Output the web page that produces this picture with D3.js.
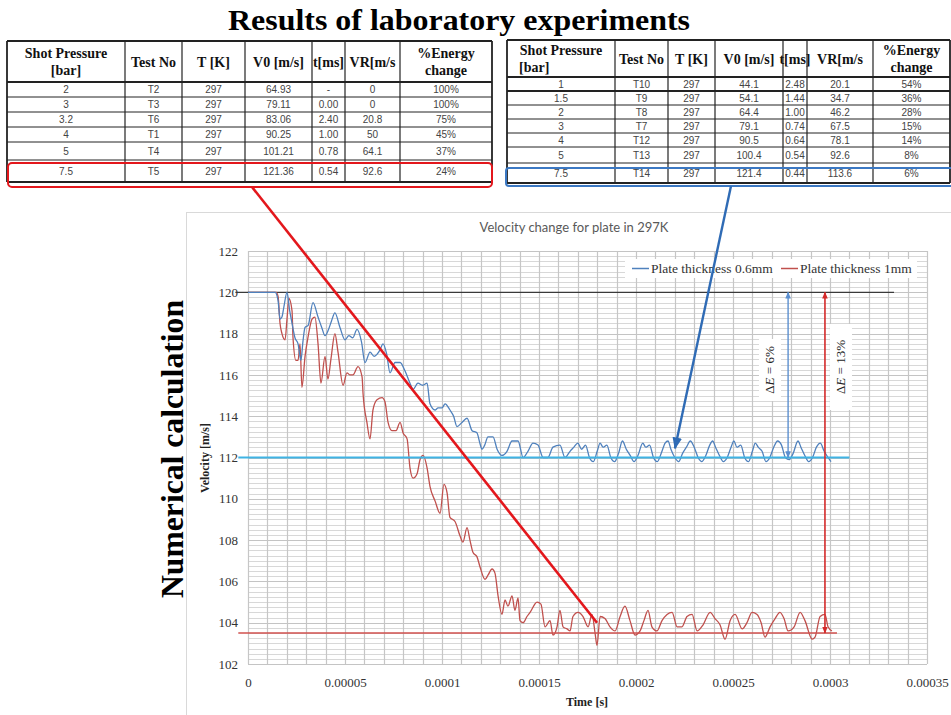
<!DOCTYPE html>
<html>
<head>
<meta charset="utf-8">
<script src="https://cdn.jsdelivr.net/npm/d3@7"></script>
<style>
  html, body { margin: 0; padding: 0; background: #fff; }
  svg { display: block; }
</style>
</head>
<body>
<svg id="fig" width="951" height="715"></svg>
<script>
// ---- experiment tables ----
const tableHeaders = [["Shot Pressure", "[bar]"], ["Test No"], ["T [K]"], ["V0  [m/s]"], ["t[ms]"], ["VR[m/s"], ["%Energy", "change"]];
const leftRows = [
  ["2", "T2", "297", "64.93", "-", "0", "100%"],
  ["3", "T3", "297", "79.11", "0.00", "0", "100%"],
  ["3.2", "T6", "297", "83.06", "2.40", "20.8", "75%"],
  ["4", "T1", "297", "90.25", "1.00", "50", "45%"],
  ["5", "T4", "297", "101.21", "0.78", "64.1", "37%"],
  ["7.5", "T5", "297", "121.36", "0.54", "92.6", "24%"]
];
const rightRows = [
  ["1", "T10", "297", "44.1", "2.48", "20.1", "54%"],
  ["1.5", "T9", "297", "54.1", "1.44", "34.7", "36%"],
  ["2", "T8", "297", "64.4", "1.00", "46.2", "28%"],
  ["3", "T7", "297", "79.1", "0.74", "67.5", "15%"],
  ["4", "T12", "297", "90.5", "0.64", "78.1", "14%"],
  ["5", "T13", "297", "100.4", "0.54", "92.6", "8%"],
  ["7.5", "T14", "297", "121.4", "0.44", "113.6", "6%"]
];

// ---- simulated velocity histories (time in microseconds, velocity in m/s) ----
const blueTime = [0, 14, 15.5, 16.5, 17.5, 18.5, 20.1, 21.5, 22.7, 24.2, 25.8, 27.3, 28.3, 29.4, 31, 33.5, 36.1, 38, 39.7, 41.5, 43, 44.8, 47.4, 50, 52, 54, 56.2, 58.5, 60.3, 62.9, 65, 68, 69.6, 71.5, 73.2, 75.8, 78.4, 80.9, 83.5, 85.1, 87.6, 90, 92.3, 93.8, 96.4, 98, 100, 101.6, 104.1, 106, 107.7, 110.3, 112.9, 115.5, 118, 119.5, 120.6, 122, 123.7, 126.3, 128.4, 130.9, 133.5, 136.1, 139.2, 141.8, 144.3, 146.9, 149.5, 152.1, 154.6, 157.2, 160.8, 163.4, 166, 168, 170, 172, 174, 176, 178, 180, 181.5, 183, 185, 187, 189, 191, 193, 195, 197, 199, 201, 203.5, 205, 207, 209, 211, 213, 215, 216.5, 218, 220, 222, 224, 226, 228, 230, 232, 234, 236, 238, 239.5, 241, 243, 245, 247, 249, 250.5, 252, 254, 256, 258, 260, 261.5, 263, 265, 267, 269, 271, 273, 275, 277, 279, 281, 283.5, 285, 287, 289, 291, 293, 295, 297, 299, 300.5];
const blueVel = [120, 120, 119.6, 118.7, 118.8, 119.3, 120.0, 119.1, 118.5, 117.8, 117.5, 116.7, 117.6, 118.3, 118.4, 119.5, 118.8, 118.3, 117.9, 118.2, 118.6, 119.0, 118.3, 117.7, 117.9, 117.8, 118.2, 117.6, 116.6, 117.1, 116.9, 117.2, 117.5, 117.0, 116.1, 116.6, 116.6, 116.2, 115.6, 115.3, 115.6, 115.5, 115.6, 114.6, 114.3, 114.4, 114.4, 114.6, 114.3, 114.0, 113.5, 113.7, 113.9, 113.3, 113.2, 112.7, 112.4, 112.6, 113.0, 113.0, 112.4, 112.1, 112.3, 112.8, 112.8, 112.0, 112.3, 112.7, 112.6, 112.0, 112.0, 112.5, 112.6, 112.0, 112.3, 112.5, 112.7, 112.4, 112.6, 112.0, 111.8, 112.3, 112.7, 112.5, 112.6, 112.0, 111.8, 112.2, 112.8, 112.4, 112.1, 111.8, 112.1, 112.7, 112.5, 112.6, 112.0, 111.8, 112.2, 112.7, 112.8, 112.4, 112.0, 111.8, 112.2, 112.5, 112.8, 112.5, 112.0, 111.8, 112.1, 112.6, 112.8, 112.5, 112.1, 111.8, 112.0, 112.5, 112.8, 112.5, 112.6, 112.0, 111.8, 112.3, 112.7, 112.5, 112.3, 111.8, 112.0, 112.5, 112.8, 112.6, 112.0, 111.9, 112.2, 112.8, 112.5, 112.1, 111.8, 112.0, 112.5, 112.7, 112.3, 112.0, 111.8];

const redTime = [0, 14.5, 15.5, 16.5, 17.5, 19.1, 20.1, 21.1, 22.7, 23.2, 24.7, 25.8, 26.8, 27.8, 29.4, 30.9, 33, 34.5, 36.1, 37.6, 39.7, 41.2, 42.8, 44.8, 46.4, 49, 51, 52.6, 54.1, 56.7, 58.8, 59.3, 61.3, 62.9, 64.4, 66.5, 69.1, 70.6, 72.2, 74.2, 76.3, 78.4, 79.9, 82, 83.5, 85.1, 87.1, 88.7, 90.2, 92.3, 93.8, 96.4, 99, 101, 102.6, 104.1, 106.7, 109.3, 110.8, 112.9, 114.4, 116, 118, 119.6, 122.2, 123.7, 125.8, 127.3, 128.9, 130.9, 132.5, 134, 136.1, 137.6, 139.2, 140.2, 141.8, 143.8, 145.4, 149, 151, 153.1, 155.7, 157.2, 159.3, 160.8, 162.4, 164.4, 166, 167.5, 170.1, 172.7, 175.3, 177.3, 178.9, 179.9, 181.5, 184, 186.6, 189.2, 191.8, 194.3, 196.9, 199.5, 202.1, 204.1, 206.2, 208.2, 210.8, 213.4, 216, 218.6, 221.2, 223.7, 226.3, 228.9, 231.5, 234.6, 238.2, 240.7, 243.3, 245.9, 248.5, 251.1, 254.7, 257.2, 259.8, 262.4, 264.5, 266.5, 269.1, 271.7, 274.2, 276.3, 278.4, 281.5, 284.6, 287.1, 290.8, 292.3, 294.9, 297.4, 299, 301];
const redVel = [120, 120, 119.8, 118.5, 118.0, 117.7, 118.7, 119.7, 119.1, 117.8, 116.7, 116.7, 117.5, 115.4, 116.9, 117.8, 118.7, 118.8, 117.5, 115.6, 116.9, 115.8, 116.8, 118.0, 117.1, 115.5, 116.1, 116.0, 116.0, 116.4, 115.9, 115.1, 113.7, 112.9, 114.3, 114.8, 114.9, 114.7, 113.7, 113.3, 113.3, 113.7, 113.2, 112.9, 111.5, 111.0, 111.2, 111.9, 112.1, 111.5, 110.6, 109.9, 109.3, 110.7, 110.3, 109.1, 108.9, 108.2, 107.9, 108.6, 108.0, 107.4, 107.2, 106.7, 106.1, 106.3, 106.6, 106.4, 105.3, 104.4, 105.1, 104.8, 105.3, 104.6, 105.2, 104.1, 104.0, 104.3, 104.5, 105.0, 104.9, 103.8, 104.1, 103.4, 103.8, 104.6, 103.8, 103.7, 103.6, 104.3, 104.5, 104.3, 103.8, 104.4, 103.5, 102.9, 104.3, 104.2, 103.8, 103.6, 104.3, 104.8, 104.1, 103.4, 103.6, 104.1, 104.6, 103.8, 103.6, 104.1, 104.4, 104.5, 103.8, 103.8, 104.3, 104.4, 103.6, 103.9, 104.5, 104.2, 103.9, 103.2, 104.1, 104.4, 103.7, 104.0, 104.5, 104.4, 104.0, 103.3, 103.8, 104.2, 104.5, 104.2, 103.6, 103.8, 104.5, 104.1, 103.2, 103.3, 104.3, 104.4, 103.8, 103.6];

// ---- axis ticks ----
const xTicks = [0, 50, 100, 150, 200, 250, 300, 350];
const xTickLabels = ["0", "0.00005", "0.0001", "0.00015", "0.0002", "0.00025", "0.0003", "0.00035"];
const yTicks = [102, 104, 106, 108, 110, 112, 114, 116, 118, 120, 122];

// ---- reference levels and energy annotations ----
const initialVelocity = 120;
const finalVelocityThin = 112;
const finalVelocityThick = 103.5;
const energyLabels = ["ΔE = 6%", "ΔE = 13%"];
const seriesNames = ["Plate thickness 0.6mm", "Plate thickness 1mm"];

const svg = d3.select("#fig");
const serif = "'Liberation Serif', 'DejaVu Serif', serif";
const sans = "Lato, 'Liberation Sans', sans-serif";

// ================= tables =================
function drawTable(g, cols, rowEdges, rows, opts) {
  const left = cols[0], right = cols[cols.length - 1];
  const top = rowEdges[0], bottom = rowEdges[rowEdges.length - 1];
  // header texts
  tableHeaders.forEach((h, i) => {
    const cx = (cols[i] + cols[i + 1]) / 2;
    const cy = (rowEdges[0] + rowEdges[1]) / 2;
    const t = g.append("text")
      .attr("font-family", serif).attr("font-weight", "bold")
      .attr("font-size", 14).attr("fill", "#111");
    h.forEach((line, k) => {
      const barLeft = i === 0 && opts.leftBar && k === 1;
      t.append("tspan")
        .attr("x", barLeft ? cols[0] + 12 : cx)
        .attr("text-anchor", barLeft ? "start" : "middle")
        .attr("y", cy + (h.length === 1 ? 5 : (k === 0 ? -4 : 13)))
        .text(line);
    });
  });
  // body
  rows.forEach((r, ri) => {
    const cy = (rowEdges[ri + 1] + rowEdges[ri + 2]) / 2 + 3.5;
    r.forEach((v, ci) => {
      g.append("text")
        .attr("x", (cols[ci] + cols[ci + 1]) / 2).attr("y", cy)
        .attr("text-anchor", "middle")
        .attr("font-family", "'Liberation Sans', Arial, sans-serif")
        .attr("font-size", 10).attr("fill", "#444")
        .text(v);
    });
  });
  // grid lines
  rowEdges.forEach((y, i) => {
    const heavy = i === 0 || i === 1 || i === rowEdges.length - 1 || (opts.heavyRows || []).includes(i);
    g.append("line").attr("x1", left).attr("x2", right).attr("y1", y).attr("y2", y)
      .attr("stroke", "#222").attr("stroke-width", heavy ? 1.8 : 1);
  });
  cols.forEach((x, i) => {
    g.append("line").attr("x1", x).attr("x2", x).attr("y1", top).attr("y2", bottom)
      .attr("stroke", "#222").attr("stroke-width", (i === 0 || i === cols.length - 1) ? 1.8 : 1.2);
  });
}

const tLeft = svg.append("g");
drawTable(tLeft, [7, 125, 182, 245, 312, 345, 400, 492],
  [41, 82, 97, 112, 127, 142, 160, 182], leftRows, { leftBar: false });

const tRight = svg.append("g");
drawTable(tRight, [507, 615, 668, 715, 783, 807, 873, 950],
  [40, 77, 91, 105, 119, 133, 147, 163, 183], rightRows, { leftBar: true, heavyRows: [2] });

// figure heading
svg.append("text").attr("x", 459).attr("y", 30).attr("text-anchor", "middle")
  .attr("font-family", serif).attr("font-weight", "bold").attr("font-size", 30)
  .attr("textLength", 462).attr("lengthAdjust", "spacingAndGlyphs")
  .attr("fill", "#000").text("Results of laboratory experiments");

// ================= chart =================
const chart = svg.append("g");
chart.append("rect").attr("x", 186.5).attr("y", 212.5).attr("width", 770).attr("height", 510)
  .attr("fill", "#fff").attr("stroke", "#d9d9d9");

const x = d3.scaleLinear().domain([0, 350]).range([248, 927]);
const y = d3.scaleLinear().domain([102, 122]).range([664, 251]);

// gridlines
const gx = d3.range(0, 351, 10);
const gy = d3.range(102, 122.001, 0.25);
chart.append("g").selectAll("line").data(gy).join("line")
  .attr("x1", x(0)).attr("x2", x(350))
  .attr("y1", d => Math.round(y(d)) + 0.5).attr("y2", d => Math.round(y(d)) + 0.5)
  .attr("stroke", d => (Math.abs(d % 2) < 1e-6) ? "#c4c4c4" : "#d8d8d8").attr("stroke-width", 1);
chart.append("g").selectAll("line").data(gx).join("line")
  .attr("x1", d => Math.round(x(d)) + 0.5).attr("x2", d => Math.round(x(d)) + 0.5)
  .attr("y1", y(122)).attr("y2", y(102))
  .attr("stroke", "#c6c6c6").attr("stroke-width", 1.2);

// axes (labels only)
const xAxis = d3.axisBottom(x).tickValues(xTicks).tickSize(0).tickPadding(0)
  .tickFormat((d, i) => xTickLabels[i]);
chart.append("g").attr("transform", "translate(0,678)").call(xAxis)
  .call(g => g.select(".domain").remove())
  .call(g => g.selectAll("text").attr("font-family", serif).attr("font-size", 13).attr("fill", "#333").attr("dy", "0.71em").attr("y", 0));

const yAxis = d3.axisLeft(y).tickValues(yTicks).tickSize(0).tickPadding(0);
chart.append("g").attr("transform", "translate(238,0)").call(yAxis)
  .call(g => g.select(".domain").remove())
  .call(g => g.selectAll("text").attr("font-family", serif).attr("font-size", 13).attr("fill", "#333"));

chart.append("text").attr("x", 587).attr("y", 706).attr("text-anchor", "middle")
  .attr("font-family", serif).attr("font-weight", "bold").attr("font-size", 12).attr("fill", "#222")
  .text("Time [s]");
chart.append("text").attr("transform", "translate(209,458) rotate(-90)").attr("text-anchor", "middle")
  .attr("font-family", serif).attr("font-weight", "bold").attr("font-size", 12).attr("fill", "#222")
  .text("Velocity [m/s]");

chart.append("text").attr("x", 574).attr("y", 232).attr("text-anchor", "middle")
  .attr("font-family", sans).attr("font-size", 13).attr("fill", "#595959")
  .text("Velocity change for plate in 297K");

// reference levels
chart.append("line").attr("x1", x(-6.5)).attr("x2", x(333)).attr("y1", y(initialVelocity)).attr("y2", y(initialVelocity))
  .attr("stroke", "#3a3a3a").attr("stroke-width", 1.2);

// series
const line = d3.line().x(d => x(d[0])).y(d => y(d[1])).curve(d3.curveMonotoneX);
const blueData = blueTime.map((t, i) => [t, blueVel[i]]);
const redData = redTime.map((t, i) => [t, redVel[i]]);
chart.append("path").datum(redData).attr("d", line).attr("fill", "none")
  .attr("stroke", "#c0504d").attr("stroke-width", 1.3).attr("stroke-linejoin", "round");
chart.append("path").datum(blueData).attr("d", line).attr("fill", "none")
  .attr("stroke", "#4f81bd").attr("stroke-width", 1.3).attr("stroke-linejoin", "round");

chart.append("line").attr("x1", x(-5)).attr("x2", x(310)).attr("y1", y(finalVelocityThin)).attr("y2", y(finalVelocityThin))
  .attr("stroke", "#3fb3e4").attr("stroke-width", 2);
chart.append("line").attr("x1", x(-5)).attr("x2", x(303.6)).attr("y1", y(finalVelocityThick)).attr("y2", y(finalVelocityThick))
  .attr("stroke", "#d0504e").attr("stroke-width", 1.5);

// arrow markers
const defs = svg.append("defs");
function marker(id, color, size) {
  defs.append("marker").attr("id", id).attr("viewBox", "0 0 10 10").attr("refX", 9).attr("refY", 5)
    .attr("markerWidth", size).attr("markerHeight", size).attr("orient", "auto-start-reverse")
    .attr("markerUnits", "userSpaceOnUse")
    .append("path").attr("d", "M0,1 L10,5 L0,9 Z").attr("fill", color);
}
marker("arrBlueSmall", "#5b8fd0", 7);
marker("arrRedSmall", "#d42a2a", 7);
marker("arrBlueBig", "#2f6bb5", 12);

// energy-change arrows
const eThin = [278.4, finalVelocityThin, initialVelocity];
const eThick = [297.4, initialVelocity, finalVelocityThick];
chart.append("line").attr("x1", x(eThin[0])).attr("x2", x(eThin[0])).attr("y1", y(eThin[1])).attr("y2", y(eThin[2]))
  .attr("stroke", "#5b8fd0").attr("stroke-width", 1.4)
  .attr("marker-start", "url(#arrBlueSmall)").attr("marker-end", "url(#arrBlueSmall)");
chart.append("line").attr("x1", x(eThick[0])).attr("x2", x(eThick[0])).attr("y1", y(eThick[1])).attr("y2", y(eThick[2]))
  .attr("stroke", "#d42a2a").attr("stroke-width", 1.6)
  .attr("marker-start", "url(#arrRedSmall)").attr("marker-end", "url(#arrRedSmall)");

function energyLabel(cx, cy, label, w) {
  chart.append("rect").attr("x", cx - 11).attr("y", cy - w / 2).attr("width", 22).attr("height", w).attr("fill", "#fff");
  const t = chart.append("text").attr("transform", `translate(${cx + 4},${cy}) rotate(-90)`)
    .attr("text-anchor", "middle").attr("font-family", serif).attr("font-size", 13).attr("fill", "#222");
  t.append("tspan").text(label.slice(0, 1));
  t.append("tspan").attr("font-style", "italic").text(label.slice(1, 2));
  t.append("tspan").text(label.slice(2));
}
energyLabel(770, 370, energyLabels[0], 62);
energyLabel(841, 367, energyLabels[1], 86);

// legend
const lg = chart.append("g");
lg.append("rect").attr("x", 625).attr("y", 259).attr("width", 292).attr("height", 19).attr("fill", "#fff");
[["#4f81bd", 632, seriesNames[0]], ["#c0504d", 781, seriesNames[1]]].forEach(([c, lx, name]) => {
  lg.append("line").attr("x1", lx).attr("x2", lx + 17).attr("y1", 268.5).attr("y2", 268.5)
    .attr("stroke", c).attr("stroke-width", 1.5);
  lg.append("text").attr("x", lx + 19).attr("y", 273).attr("font-family", serif).attr("font-size", 13.5)
    .attr("fill", "#333").text(name);
});

// side label
svg.append("text").attr("transform", "translate(183,449) rotate(-90)").attr("text-anchor", "middle")
  .attr("font-family", serif).attr("font-weight", "bold").attr("font-size", 31).attr("fill", "#000")
  .attr("textLength", 298).attr("lengthAdjust", "spacingAndGlyphs")
  .text("Numerical calculation");

// ================= highlights linking tables to the chart =================
svg.append("rect").attr("x", 8).attr("y", 163).attr("width", 484).attr("height", 24).attr("rx", 4)
  .attr("fill", "none").attr("stroke", "#e3171c").attr("stroke-width", 2);
svg.append("rect").attr("x", 506).attr("y", 168).attr("width", 452).attr("height", 18).attr("rx", 3)
  .attr("fill", "none").attr("stroke", "#3b78c3").attr("stroke-width", 2);

const thickPoint = [179.9, 104.0];
const thinPoint = [220.1, 112.45];
svg.append("line").attr("x1", 252).attr("y1", 187).attr("x2", x(thickPoint[0])).attr("y2", y(thickPoint[1]))
  .attr("stroke", "#e3171c").attr("stroke-width", 2.6);
svg.append("line").attr("x1", 731).attr("y1", 186).attr("x2", x(thinPoint[0])).attr("y2", y(thinPoint[1]))
  .attr("stroke", "#2f6bb5").attr("stroke-width", 2.4).attr("marker-end", "url(#arrBlueBig)");
</script>
</body>
</html>
